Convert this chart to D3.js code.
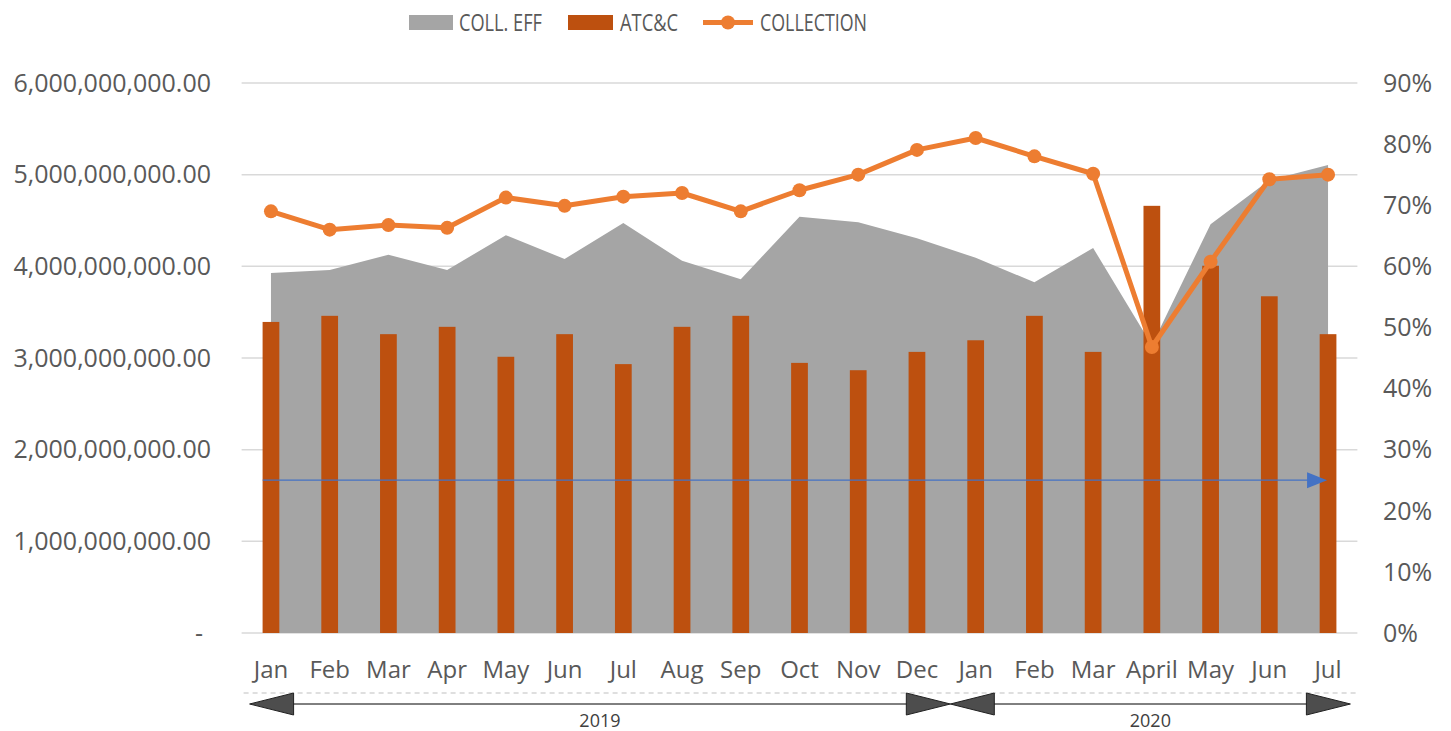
<!DOCTYPE html>
<html>
<head>
<meta charset="utf-8">
<script src="https://cdn.jsdelivr.net/npm/d3@7"></script>
<style>
  html, body { margin: 0; padding: 0; background: #fff; }
  svg { display: block; }
</style>
</head>
<body>
<svg id="chart" width="1451" height="731"></svg>
<script>
// categories (two years of months)
const months = ["Jan","Feb","Mar","Apr","May","Jun","Jul","Aug","Sep","Oct","Nov","Dec",
                "Jan","Feb","Mar","April","May","Jun","Jul"];
const years = [{label: "2019", from: 0, to: 11}, {label: "2020", from: 12, to: 18}];

// COLL. EFF (%), right axis
const collEff = [58.9, 59.4, 61.9, 59.4, 65.1, 61.2, 67.1, 60.9, 57.9, 68.1, 67.2, 64.6,
                 61.4, 57.4, 63.0, 47.1, 66.9, 74.1, 76.6];
// ATC&C (%), right axis
const atcc = [50.9, 51.9, 48.9, 50.1, 45.2, 48.9, 44.0, 50.1, 51.9, 44.2, 43.0, 46.0,
              47.9, 51.9, 46.0, 69.9, 60.1, 55.1, 48.9];
// COLLECTION (amount), left axis
const collection = [4.60e9, 4.40e9, 4.45e9, 4.42e9, 4.75e9, 4.66e9, 4.76e9, 4.80e9, 4.60e9, 4.83e9,
                    5.00e9, 5.27e9, 5.40e9, 5.20e9, 5.01e9, 3.12e9, 4.05e9, 4.95e9, 5.00e9];
// reference marker (%)
const markerLevel = 25;

const leftTicks = [0, 1e9, 2e9, 3e9, 4e9, 5e9, 6e9];
const rightTicks = [0, 10, 20, 30, 40, 50, 60, 70, 80, 90];

const svg = d3.select("#chart");
const plotTop = 83, plotBottom = 633, plotLeft = 241.6, plotRight = 1357.4;

const x = d3.scaleBand()
  .domain(d3.range(months.length))
  .range([plotLeft, plotRight]);
const cx = i => x(i) + x.bandwidth() / 2;

const yL = d3.scaleLinear().domain([0, 6e9]).range([plotBottom, plotTop]);
const yR = d3.scaleLinear().domain([0, 90]).range([plotBottom, plotTop]);

const axisFont = "'Open Sans', sans-serif";
const legendFont = "'Open Sans', sans-serif";
const txt = "#595959";

// gridlines
svg.append("g")
  .selectAll("line")
  .data(leftTicks)
  .join("line")
  .attr("x1", plotLeft).attr("x2", plotRight)
  .attr("y1", d => yL(d)).attr("y2", d => yL(d))
  .attr("stroke", "#d9d9d9")
  .attr("stroke-width", 1.5);

// area
const area = d3.area()
  .x((d, i) => cx(i))
  .y0(plotBottom)
  .y1(d => yR(d));
svg.append("path")
  .datum(collEff)
  .attr("d", area)
  .attr("fill", "#a5a5a5");

// bars
const bw = x.bandwidth() * 0.285;
svg.append("g")
  .selectAll("rect")
  .data(atcc)
  .join("rect")
  .attr("x", (d, i) => cx(i) - bw / 2)
  .attr("y", d => yR(d))
  .attr("width", bw)
  .attr("height", d => plotBottom - yR(d))
  .attr("fill", "#bd500f");

// blue arrow annotation
const ay = yR(markerLevel);
svg.append("line")
  .attr("x1", x(0) + x.bandwidth() * 0.36).attr("x2", cx(months.length - 1) - 18)
  .attr("y1", ay).attr("y2", ay)
  .attr("stroke", "#4472c4").attr("stroke-width", 1.3);
const tipX = cx(months.length - 1) - 1;
svg.append("path")
  .attr("d", `M${tipX},${ay} L${tipX - 20},${ay - 8} L${tipX - 20},${ay + 8} Z`)
  .attr("fill", "#4472c4");

// collection line
const line = d3.line().x((d, i) => cx(i)).y(d => yL(d));
svg.append("path")
  .datum(collection)
  .attr("d", line)
  .attr("fill", "none")
  .attr("stroke", "#ed7d31")
  .attr("stroke-width", 5)
  .attr("stroke-linejoin", "round");
svg.append("g")
  .selectAll("circle")
  .data(collection)
  .join("circle")
  .attr("cx", (d, i) => cx(i))
  .attr("cy", d => yL(d))
  .attr("r", 7)
  .attr("fill", "#ed7d31");

// left axis labels
svg.append("g")
  .selectAll("text")
  .data(leftTicks)
  .join("text")
  .attr("x", d => d === 0 ? 203 : 211)
  .attr("y", d => yL(d))
  .attr("dy", "0.35em")
  .attr("text-anchor", "end")
  .attr("font-family", axisFont)
  .attr("font-size", 25)
  .attr("fill", txt)
  .text(d => d === 0 ? "-" : d3.format(",.2f")(d));

// right axis labels
svg.append("g")
  .selectAll("text")
  .data(rightTicks)
  .join("text")
  .attr("x", 1383)
  .attr("y", d => yR(d))
  .attr("dy", "0.35em")
  .attr("font-family", axisFont)
  .attr("font-size", 25)
  .attr("fill", txt)
  .text(d => d + "%");

// month labels
svg.append("g")
  .selectAll("text")
  .data(months)
  .join("text")
  .attr("x", (d, i) => cx(i))
  .attr("y", 678)
  .attr("text-anchor", "middle")
  .attr("font-family", axisFont)
  .attr("font-size", 24)
  .attr("fill", txt)
  .text(d => d);

// dashed separator
svg.append("line")
  .attr("x1", plotLeft + 2).attr("x2", plotRight)
  .attr("y1", 693).attr("y2", 693)
  .attr("stroke", "#bfbfbf")
  .attr("stroke-dasharray", "5,4");

// year brackets with arrows
const by = 704;
const split = x(12) + 4;
const yearEnds = [[plotLeft + 8, split], [split, plotRight - 7]];
const head = (tip, dir) => `M${tip},${by} L${tip - dir * 44},${by - 11} L${tip - dir * 44},${by + 11} Z`;
years.forEach((yr, k) => {
  const [a, b] = yearEnds[k];
  svg.append("line")
    .attr("x1", a + 40).attr("x2", b - 40)
    .attr("y1", by).attr("y2", by)
    .attr("stroke", "#000").attr("stroke-width", 1);
  svg.append("path").attr("d", head(a, -1))
    .attr("fill", "#4d4d4d").attr("stroke", "#222").attr("stroke-width", 1);
  svg.append("path").attr("d", head(b, 1))
    .attr("fill", "#4d4d4d").attr("stroke", "#222").attr("stroke-width", 1);
  svg.append("text")
    .attr("x", (a + b) / 2)
    .attr("y", 727)
    .attr("text-anchor", "middle")
    .attr("font-family", axisFont)
    .attr("font-size", 18)
    .attr("fill", "#404040")
    .text(yr.label);
});

// legend (narrow face, squeezed to the reference widths)
const lg = svg.append("g").attr("font-family", legendFont).attr("font-size", 23).attr("fill", txt);
const legendText = (xPos, label, len) => lg.append("text")
  .attr("x", xPos).attr("y", 31)
  .attr("textLength", len).attr("lengthAdjust", "spacingAndGlyphs")
  .text(label);
lg.append("rect").attr("x", 409).attr("y", 15).attr("width", 44).attr("height", 15).attr("fill", "#a5a5a5");
legendText(459, "COLL. EFF", 83);
lg.append("rect").attr("x", 568).attr("y", 15).attr("width", 45).attr("height", 15).attr("fill", "#bd500f");
legendText(620, "ATC&C", 58);
lg.append("line").attr("x1", 703).attr("x2", 753).attr("y1", 22.5).attr("y2", 22.5)
  .attr("stroke", "#ed7d31").attr("stroke-width", 5);
lg.append("circle").attr("cx", 728).attr("cy", 22.5).attr("r", 7).attr("fill", "#ed7d31");
legendText(760, "COLLECTION", 107);
</script>
</body>
</html>
